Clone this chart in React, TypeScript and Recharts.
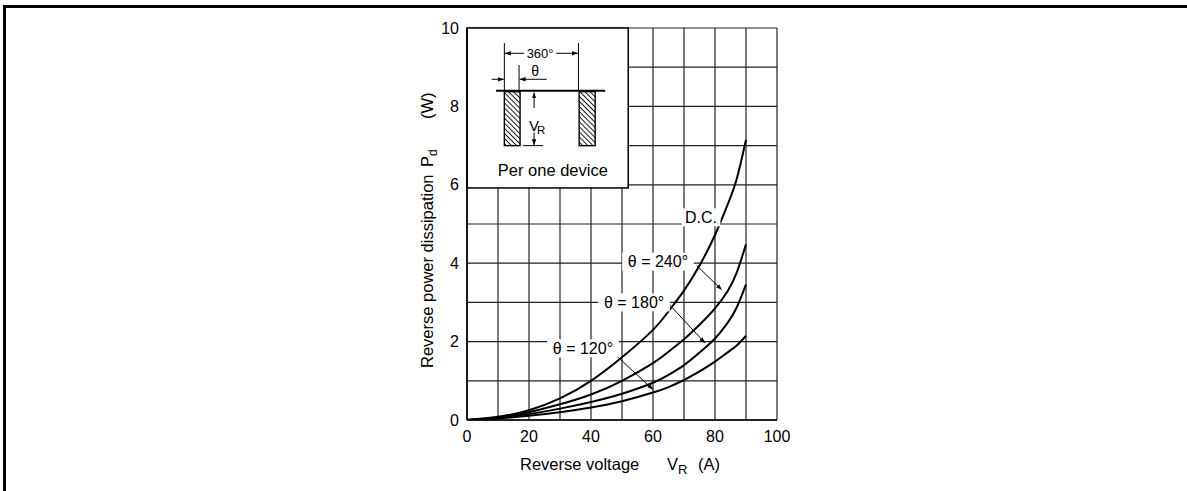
import React from 'react';
import {
  LineChart,
  Line,
  XAxis,
  YAxis,
  CartesianGrid,
  ReferenceArea,
  ReferenceDot,
  ReferenceLine,
} from 'recharts';

const FONT = '"Liberation Sans", Arial, Helvetica, sans-serif';

// Reverse voltage V_R sample points
const voltage = [0, 10, 20, 30, 40, 50, 60, 65, 70, 75, 80, 84, 87, 90];
// Reverse power dissipation Pd (W)
const dcValues = [0, 0.08, 0.25, 0.55, 1.0, 1.6, 2.3, 2.77, 3.3, 3.94, 4.72, 5.48, 6.15, 7.15];
const theta240 = [0, 0.06, 0.2, 0.4, 0.65, 1.0, 1.45, 1.74, 2.06, 2.43, 2.85, 3.28, 3.76, 4.48];
const theta180 = [0, 0.05, 0.15, 0.29, 0.46, 0.67, 0.95, 1.15, 1.4, 1.72, 2.08, 2.47, 2.87, 3.46];
const theta120 = [0, 0.04, 0.11, 0.2, 0.32, 0.48, 0.7, 0.84, 1.02, 1.24, 1.49, 1.72, 1.9, 2.15];

const xTicks = [0, 10, 20, 30, 40, 50, 60, 70, 80, 90, 100];
const yTicks = [0, 1, 2, 3, 4, 5, 6, 7, 8, 9, 10];
const xLabelTicks = [0, 20, 40, 60, 80, 100];
const yLabelTicks = [0, 2, 4, 6, 8, 10];

const curveLabels = [
  { text: 'D.C.', x: 75.5, y: 5.17 },
  { text: 'θ = 240°', x: 61.6, y: 4.04 },
  { text: 'θ = 180°', x: 53.9, y: 3.0 },
  { text: 'θ = 120°', x: 37.4, y: 1.83 },
];

const pointers = [
  { x1: 74.1, y1: 3.94, x2: 82.2, y2: 3.32 },
  { x1: 64.9, y1: 2.98, x2: 76.8, y2: 1.96 },
  { x1: 48.3, y1: 1.63, x2: 60.1, y2: 0.77 },
];

const inset = { x1: 0, x2: 52, y1: 5.92, y2: 10 };

const data = voltage.map((v, i) => ({
  v,
  dc: dcValues[i],
  t240: theta240[i],
  t180: theta180[i],
  t120: theta120[i],
}));

const XTick = (props: any) => {
  const { x, y, payload } = props;
  if (!xLabelTicks.includes(payload.value)) return null;
  return (
    <text x={x} y={y} dy="0.71em" textAnchor="middle" fontSize={16} fontFamily={FONT} fill="#000">
      {payload.value}
    </text>
  );
};

const YTick = (props: any) => {
  const { x, y, payload } = props;
  if (!yLabelTicks.includes(payload.value)) return null;
  return (
    <text x={x} y={y} dy="0.355em" textAnchor="end" fontSize={16} fontFamily={FONT} fill="#000">
      {payload.value}
    </text>
  );
};

const InsetShape = (p: any) => {
  const { x, y, width, height } = p;
  const sx = width / 161;
  const sy = height / 160;
  const X = (v: number) => x + v * sx;
  const Y = (v: number) => y + v * sy;
  const ln = (a: number, b: number, c: number, d: number, w = 1, marker?: string) => (
    <line x1={X(a)} y1={Y(b)} x2={X(c)} y2={Y(d)} stroke="#000" strokeWidth={w} markerEnd={marker} />
  );
  return (
    <g>
      <defs>
        <pattern id="hatch" patternUnits="userSpaceOnUse" width="3.6" height="3.6" patternTransform="rotate(45)">
          <line x1="0" y1="0.5" x2="3.6" y2="0.5" stroke="#000" strokeWidth="0.9" />
        </pattern>
      </defs>
      <rect x={x} y={y} width={width} height={height} fill="#fff" stroke="#000" strokeWidth={1.5} />
      {ln(37.3, 15, 37.3, 62.7)}
      {ln(111.3, 15, 111.3, 62.7)}
      {ln(52, 37, 52, 62.7)}
      {ln(57, 25.3, 37.8, 25.3, 1, 'url(#arrowHead)')}
      {ln(89, 25.3, 110.8, 25.3, 1, 'url(#arrowHead)')}
      <text x={X(73)} y={Y(25.3)} dy="0.36em" textAnchor="middle" fontSize={13} fontFamily={FONT}>
        360°
      </text>
      <text x={X(68)} y={Y(48.5)} textAnchor="middle" fontSize={14} fontFamily={FONT}>
        θ
      </text>
      {ln(24.7, 51.3, 36.8, 51.3, 1, 'url(#arrowHead)')}
      {ln(79.7, 51.3, 52.5, 51.3, 1, 'url(#arrowHead)')}
      {ln(29, 62.7, 138, 62.7, 2)}
      <rect x={X(37.3)} y={Y(63.7)} width={15.7 * sx} height={54 * sy} fill="url(#hatch)" stroke="#000" strokeWidth={1.4} />
      <rect x={X(112)} y={Y(63.7)} width={16 * sx} height={54 * sy} fill="url(#hatch)" stroke="#000" strokeWidth={1.4} />
      {ln(67, 80, 67, 64.5, 1, 'url(#arrowHead)')}
      {ln(67, 104.5, 67, 117.2, 1, 'url(#arrowHead)')}
      {ln(56, 117.7, 76, 117.7, 1)}
      <text x={X(62)} y={Y(103.5)} fontSize={15} fontFamily={FONT}>
        V
      </text>
      <text x={X(69.8)} y={Y(106.5)} fontSize={11.5} fontFamily={FONT}>
        R
      </text>
      <text x={X(85.7)} y={Y(148.5)} textAnchor="middle" fontSize={16.5} fontFamily={FONT}>
        Per one device
      </text>
    </g>
  );
};

const LabelShape = (text: string) => (p: any) => {
  const { cx, cy } = p;
  const w = text.length * 8.2 + 6;
  const h = 18;
  return (
    <g>
      <rect x={cx - w / 2} y={cy - h / 2} width={w} height={h} fill="#fff" />
      <text x={cx} y={cy} dy="0.36em" textAnchor="middle" fontSize={16} fontFamily={FONT} fill="#000">
        {text}
      </text>
    </g>
  );
};

const PointerShape = (p: any) => (
  <line x1={p.x1} y1={p.y1} x2={p.x2} y2={p.y2} stroke="#000" strokeWidth={1} markerEnd="url(#arrowHead)" />
);

export default function App() {
  return (
    <div style={{ position: 'absolute', left: 0, top: 0, width: 1187, height: 491, background: '#fff' }}>
      <svg width={0} height={0} style={{ position: 'absolute' }}>
        <defs>
          <marker
            id="arrowHead"
            markerUnits="userSpaceOnUse"
            markerWidth="7"
            markerHeight="6"
            refX="6"
            refY="3"
            orient="auto"
          >
            <path d="M0,0.8 L6,3 L0,5.2 Z" fill="#000" />
          </marker>
        </defs>
      </svg>
      <div
        style={{
          position: 'absolute',
          left: 3,
          top: 5,
          width: 1184,
          height: 486,
          borderTop: '3px solid #000',
          borderLeft: '3px solid #000',
          boxSizing: 'border-box',
        }}
      />
      <div style={{ position: 'absolute', left: 0, top: 0 }}>
        <LineChart
          width={1187}
          height={491}
          data={data}
          margin={{ top: 28, right: 410, bottom: 31, left: 407 }}
        >
          <CartesianGrid stroke="#222" strokeWidth={1.2} />
          <XAxis
            dataKey="v"
            type="number"
            domain={[0, 100]}
            ticks={xTicks}
            interval={0}
            tick={<XTick />}
            tickLine={false}
            tickMargin={5}
            axisLine={{ stroke: '#000', strokeWidth: 1.6 }}
            height={40}
            allowDataOverflow
          />
          <YAxis
            type="number"
            domain={[0, 10]}
            ticks={yTicks}
            interval={0}
            tick={<YTick />}
            tickLine={false}
            axisLine={{ stroke: '#000', strokeWidth: 1.6 }}
            width={60}
            allowDataOverflow
          />
          <ReferenceArea
            x1={inset.x1}
            x2={inset.x2}
            y1={inset.y1}
            y2={inset.y2}
            shape={InsetShape}
            ifOverflow="visible"
          />
          {curveLabels.map((l) => (
            <ReferenceDot key={l.text} x={l.x} y={l.y} r={1} shape={LabelShape(l.text)} ifOverflow="visible" />
          ))}
          {pointers.map((pt, i) => (
            <ReferenceLine
              key={i}
              segment={[
                { x: pt.x1, y: pt.y1 },
                { x: pt.x2, y: pt.y2 },
              ]}
              stroke="#000"
              shape={PointerShape}
              ifOverflow="visible"
            />
          ))}
          <Line type="natural" dataKey="dc" stroke="#000" strokeWidth={2} dot={false} isAnimationActive={false} />
          <Line type="natural" dataKey="t240" stroke="#000" strokeWidth={2} dot={false} isAnimationActive={false} />
          <Line type="natural" dataKey="t180" stroke="#000" strokeWidth={2} dot={false} isAnimationActive={false} />
          <Line type="natural" dataKey="t120" stroke="#000" strokeWidth={2} dot={false} isAnimationActive={false} />
        </LineChart>
      </div>
      <svg
        width={1187}
        height={491}
        style={{ position: 'absolute', left: 0, top: 0, pointerEvents: 'none' }}
      >
        <text x={520} y={470} fontSize={16.5} fontFamily={FONT} fill="#000">
          Reverse voltage
        </text>
        <text x={667} y={470} fontSize={16.5} fontFamily={FONT} fill="#000">
          V
        </text>
        <text x={678} y={474} fontSize={13} fontFamily={FONT} fill="#000">
          R
        </text>
        <text x={698} y={470} fontSize={16.5} fontFamily={FONT} fill="#000">
          (A)
        </text>
        <g transform="rotate(-90)">
          <text x={-368} y={433} fontSize={16.5} fontFamily={FONT} fill="#000">
            Reverse power dissipation
          </text>
          <text x={-167} y={433} fontSize={16.5} fontFamily={FONT} fill="#000">
            P
          </text>
          <text x={-156} y={437} fontSize={12} fontFamily={FONT} fill="#000">
            d
          </text>
          <text x={-119} y={433} fontSize={16.5} fontFamily={FONT} fill="#000">
            (W)
          </text>
        </g>
      </svg>
    </div>
  );
}
